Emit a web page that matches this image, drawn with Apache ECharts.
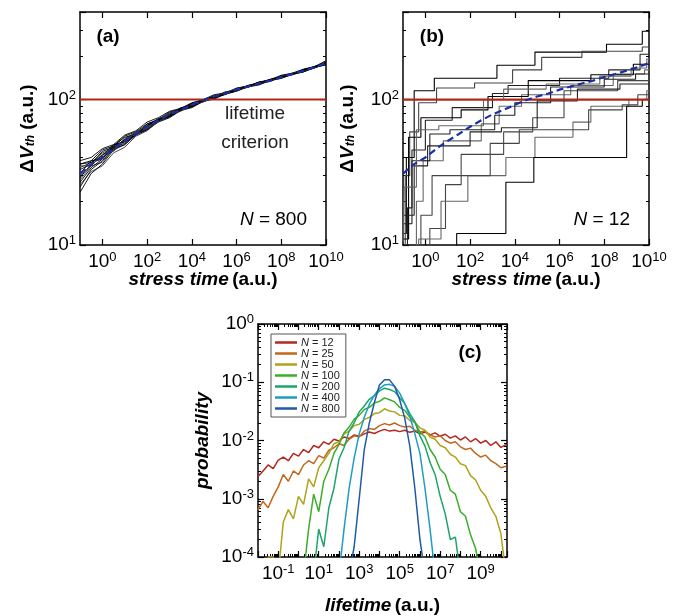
<!DOCTYPE html>
<html><head><meta charset="utf-8">
<script src="https://cdn.jsdelivr.net/npm/echarts@6/dist/echarts.min.js"></script>
<style>html,body{margin:0;padding:0;background:#fff}#c{width:680px;height:616px}</style>
</head><body><div id="c"></div>
<script>
const FONT = "'Liberation Sans', Arial, sans-serif";

// ---------- panels (a) and (b): threshold shift vs stress time ----------
const stressExp = [-1,-0.5,0,0.5,1,1.5,2,2.5,3,3.5,4,4.5,5,5.5,6,6.5,7,7.5,8,8.5,9,9.5,10];
const meanDVth  = [31,36,40,46,52,58,65,72,79,85,92,99,105,110,117,123,129,135,143,150,158,167,178];
const devA1  = [26,32,35,43,47,56,61,71,76,85,89,98,102,110,115,123,127,135,140,150,156,166,174];
const devA2  = [36,38,45,48,56,60,68,73,82,86,94,98,106,110,119,123,131,136,145,151,161,168,181];
const devA3  = [29,36,40,48,52,59,65,72,77,87,91,99,105,113,116,124,130,137,142,151,158,169,176];
const devA4  = [34,37,43,46,53,59,65,72,81,84,91,99,105,108,119,124,130,134,146,150,158,165,183];
const devA5  = [23,31,36,45,49,57,62,70,75,84,88,97,101,109,114,122,126,135,140,149,155,166,175];
const devA6  = [38,40,46,49,57,61,70,75,83,87,95,100,108,111,120,124,132,137,147,152,162,169,185];
const devA7  = [30,35,37,46,53,60,64,73,79,85,91,98,103,112,115,123,129,137,141,151,157,168,178];
const devA8  = [27,34,39,47,50,58,63,72,76,85,90,98,102,111,116,125,128,136,142,152,157,167,176];
const devA9  = [33,36,44,47,53,57,68,72,80,86,94,99,105,109,117,122,131,136,145,148,158,167,179];
const devA10 = [35,35,42,45,54,59,67,71,81,85,92,97,107,110,119,122,129,134,143,149,160,166,182];
const devA11 = [25,33,38,46,49,58,62,71,77,86,89,97,102,110,116,123,128,137,142,150,155,167,173];
const devA12 = [31,38,39,48,55,58,66,74,77,84,93,98,106,111,117,123,132,133,145,150,161,167,180];
const devA13 = [28,35,42,44,52,60,63,70,79,83,92,96,104,112,118,121,130,135,144,152,157,165,177];
const devA14 = [36,37,41,49,51,57,66,73,78,88,90,100,103,109,115,125,129,138,143,149,159,169,178];
const devicesA = [devA1,devA2,devA3,devA4,devA5,devA6,devA7,devA8,devA9,devA10,devA11,devA12,devA13,devA14];

// (b): step curves, [log10(stress time), dVth]
const stepB1  = [[-1,12],[-0.85,40],[-0.5,115],[0.4,140],[3.2,172],[4.9,212],[8.1,240],[9.7,295],[10,295]];
const stepB2  = [[-1,9],[-0.9,30],[-0.7,60],[-0.3,95],[0.5,120],[2.2,130],[3.9,160],[5.2,195],[7.0,215],[9.7,230],[10,230]];
const stepB3  = [[-1,14],[-0.6,45],[0,72],[1.2,88],[3.0,110],[3.7,125],[6.0,140],[8.2,160],[9.6,205],[10,205]];
const stepB4  = [[-1,9],[-0.4,20],[-0.1,38],[0.8,52],[2.5,68],[3.3,90],[4.3,108],[6.5,125],[8.4,150],[9.8,160],[10,160]];
const stepB5  = [[-1,11],[-0.75,55],[-0.2,75],[1.6,85],[2.8,105],[4.6,135],[7.4,148],[9.3,175],[10,175]];
const stepB6  = [[-1,9],[0.2,13],[0.9,26],[1.6,42],[3.5,60],[4.8,75],[6.2,115],[8.6,135],[10,135]];
const stepB7  = [[-1,16],[-0.5,35],[0.1,48],[2.0,60],[3.4,64],[5.0,98],[6.8,118],[8.7,128],[10,128]];
const stepB8  = [[-1,9],[-0.3,11],[0.7,20],[1.9,30],[3.6,40],[4.9,55],[6.6,70],[7.4,90],[9.1,100],[9.9,115],[10,115]];
const stepB9  = [[-1,9],[1.4,12],[3.6,27],[4.85,40],[9.0,90],[9.7,100],[10,100]];
const stepB10 = [[-1,9],[-0.2,16],[0.3,30],[2.9,50],[4.2,62],[7.3,85],[8.8,92],[9.5,108],[10,108]];
const stepB11 = [[-1,9],[-0.8,18],[-0.6,38],[0.2,58],[1.1,62],[3.1,78],[4.0,95],[5.6,122],[8.0,138],[9.4,150],[10,150]];
const stepB12 = [[-1,10.5],[-0.95,25],[-0.4,62],[0.6,66],[2.6,100],[3.5,118],[5.4,128],[7.8,145],[9.2,165],[9.9,190],[10,190]];
const stepCurvesB = [stepB1,stepB2,stepB3,stepB4,stepB5,stepB6,stepB7,stepB8,stepB9,stepB10,stepB11,stepB12];

const lifetimeCriterion = 100;
const stressTicks = [1,1e2,1e4,1e6,1e8,1e10];
const dvthTicks = [10,100];

// ---------- panel (c): lifetime distributions ----------
const lifetimeExp = [-2,-1.75,-1.5,-1.25,-1,-0.75,-0.5,-0.25,0,0.25,0.5,0.75,1,1.25,1.5,1.75,2,2.25,2.5,2.75,3,3.25,3.5,3.75,4,4.25,4.5,4.75,5,5.25,5.5,5.75,6,6.25,6.5,6.75,7,7.25,7.5,7.75,8,8.25,8.5,8.75,9,9.25,9.5,9.75,10,10.25];
const ensembleNames = ['N = 12','N = 25','N = 50','N = 100','N = 200','N = 400','N = 800'];
const ensembleColors = ['#b2281c','#c0681e','#b0a21c','#3aae2a','#1ca46c','#1e9cc4','#1f5aa6'];
const probN12 = [2.4e-3,3.0e-3,3.8e-3,3.3e-3,4.6e-3,5.2e-3,4.5e-3,6.0e-3,5.4e-3,7.0e-3,6.2e-3,8.2e-3,7.5e-3,9.5e-3,8.6e-3,1.05e-2,9.8e-3,1.15e-2,1.08e-2,1.25e-2,1.18e-2,1.3e-2,1.4e-2,1.32e-2,1.45e-2,1.55e-2,1.45e-2,1.5e-2,1.42e-2,1.5e-2,1.38e-2,1.45e-2,1.3e-2,1.4e-2,1.25e-2,1.35e-2,1.18e-2,1.28e-2,1.1e-2,1.2e-2,1.02e-2,1.15e-2,9.5e-3,1.08e-2,9.0e-3,1.0e-2,8.2e-3,9.5e-3,7.6e-3,8.5e-3];
const probN25 = [6.5e-4,9e-4,7e-4,1.1e-3,1.6e-3,2.6e-3,2.0e-3,3.0e-3,2.6e-3,3.8e-3,4.5e-3,4.0e-3,5.5e-3,5.0e-3,6.8e-3,7.5e-3,8.8e-3,8.2e-3,1.05e-2,1.2e-2,1.15e-2,1.45e-2,1.6e-2,1.55e-2,1.8e-2,1.95e-2,1.85e-2,2.0e-2,1.8e-2,1.7e-2,1.75e-2,1.5e-2,1.4e-2,1.45e-2,1.25e-2,1.15e-2,1.2e-2,1.0e-2,9.0e-3,9.5e-3,7.8e-3,7.0e-3,7.4e-3,6.0e-3,5.2e-3,5.6e-3,4.5e-3,4.0e-3,3.4e-3,3.6e-3];
const probN50 = [null,5e-5,1e-4,1e-4,5e-5,4e-4,6.5e-4,4.5e-4,1.1e-3,8e-4,2.2e-3,1.6e-3,3.4e-3,4.5e-3,6.0e-3,8.8e-3,9.5e-3,1.3e-2,1.45e-2,1.8e-2,1.9e-2,2.3e-2,2.5e-2,2.9e-2,3.0e-2,3.5e-2,3.2e-2,3.1e-2,2.7e-2,2.65e-2,2.2e-2,2.05e-2,1.65e-2,1.5e-2,1.15e-2,1.05e-2,8.2e-3,7.5e-3,5.8e-3,5.2e-3,4.0e-3,3.7e-3,2.5e-3,2.1e-3,1.4e-3,1.1e-3,7e-4,5e-4,2.5e-4,5e-5];
const probN100 = [null,null,null,null,null,null,null,null,null,5e-5,3e-4,1.2e-3,6e-4,2.0e-3,3.2e-3,6.0e-3,8.5e-3,1.35e-2,1.7e-2,2.3e-2,2.7e-2,3.4e-2,3.7e-2,4.4e-2,4.7e-2,5.4e-2,5.0e-2,4.6e-2,3.7e-2,3.3e-2,2.5e-2,2.05e-2,1.4e-2,1.15e-2,7e-3,5.2e-3,3.2e-3,2.6e-3,1.4e-3,1.2e-3,6e-4,5e-4,2.4e-4,1.4e-4,5e-5,null,null,null,null,null];
const probN200 = [null,null,null,null,null,null,null,null,null,null,null,5e-5,3e-4,1.5e-4,7e-4,1.5e-3,4.8e-3,7.5e-3,1.45e-2,2.0e-2,3.1e-2,3.9e-2,5.1e-2,5.9e-2,7.1e-2,7.9e-2,7.5e-2,6.9e-2,5.4e-2,4.3e-2,2.9e-2,2.1e-2,1.2e-2,8e-3,4.2e-3,2.6e-3,1.1e-3,5.5e-4,2e-4,2.2e-4,5e-5,null,null,null,null,null,null,null,null,null];
const probN400 = [null,null,null,null,null,null,null,null,null,null,null,null,null,null,null,null,5e-5,3e-4,1.5e-3,5e-3,1.3e-2,2.5e-2,4.2e-2,6.0e-2,7.8e-2,9.0e-2,9.2e-2,8.5e-2,6.5e-2,4.3e-2,2.6e-2,1.3e-2,6e-3,1.5e-3,3e-4,5e-5,null,null,null,null,null,null,null,null,null,null,null,null,null,null];
const probN800 = [null,null,null,null,null,null,null,null,null,null,null,null,null,null,null,null,null,null,5e-5,1.5e-4,1.0e-3,7e-3,2.0e-2,4.5e-2,9e-2,1.1e-1,1.1e-1,8.5e-2,5.0e-2,2.4e-2,8e-3,1.5e-3,2e-4,5e-5,null,null,null,null,null,null,null,null,null,null,null,null,null,null,null,null];
const ensembleProbs = [probN12,probN25,probN50,probN100,probN200,probN400,probN800];
const lifetimeTicks = [0.1,10,1e3,1e5,1e7,1e9];
const probTicks = [1e-4,1e-3,1e-2,1e-1,1];

// ---------- helpers ----------
function supLabel(v){ const e = Math.round(Math.log10(v)); return '{b|10}{s|' + e + '}'; }
const supRich = {
  b: {fontSize: 19, fontFamily: FONT, color: '#000', lineHeight: 22},
  s: {fontSize: 13, fontFamily: FONT, color: '#000', lineHeight: 22, verticalAlign: 'top'}
};
const lineStyleAxis = {color: '#000', width: 1.5};

function makeAxis(o) {
  return {
    type: 'log', logBase: 10, gridIndex: o.grid, position: o.pos,
    min: o.min, max: o.max, interval: 1,
    axisLine: {show: true, lineStyle: lineStyleAxis},
    axisTick: {show: true, inside: true, length: 6, customValues: o.ticks, lineStyle: {color: '#000', width: 1.2}},
    minorTick: {show: !!o.minor, splitNumber: 9, length: 3, lineStyle: {color: '#000', width: 1}},
    axisLabel: o.labels ? {show: true, customValues: o.labels, formatter: supLabel, rich: supRich, margin: o.margin || 6} : {show: false},
    splitLine: {show: false}, minorSplitLine: {show: false},
    name: o.name || '', nameLocation: 'middle', nameGap: o.nameGap || 30, nameMoveOverlap: false,
    nameTextStyle: {rich: o.nameRich || {}, fontFamily: FONT},
    silent: true
  };
}
const xNameRich = {
  bi: {fontSize: 19, fontWeight: 'bold', fontStyle: 'italic', fontFamily: FONT, color: '#000'},
  b: {fontSize: 19, fontWeight: 'bold', fontFamily: FONT, color: '#000'}
};
const yNameRich = {
  b: {fontSize: 19, fontWeight: 'bold', fontFamily: FONT, color: '#000'},
  bi: {fontSize: 19, fontWeight: 'bold', fontStyle: 'italic', fontFamily: FONT, color: '#000'},
  sub: {fontSize: 12, fontWeight: 'bold', fontStyle: 'italic', fontFamily: FONT, color: '#000', verticalAlign: 'bottom'}
};

const xAxes = [
  makeAxis({grid:0,pos:'bottom',min:0.1,max:1e10,ticks:stressTicks,labels:stressTicks,name:'{bi|stress time} {b|(a.u.)}',nameRich:xNameRich,nameGap:25}),
  makeAxis({grid:0,pos:'top',min:0.1,max:1e10,ticks:stressTicks}),
  makeAxis({grid:1,pos:'bottom',min:0.1,max:1e10,ticks:stressTicks,labels:stressTicks,name:'{bi|stress time} {b|(a.u.)}',nameRich:xNameRich,nameGap:25}),
  makeAxis({grid:1,pos:'top',min:0.1,max:1e10,ticks:stressTicks}),
  makeAxis({grid:2,pos:'bottom',min:0.01,max:2e10,ticks:null,minor:true,labels:lifetimeTicks,name:'{bi|lifetime} {b|(a.u.)}',nameRich:xNameRich,nameGap:39}),
  makeAxis({grid:2,pos:'top',min:0.01,max:2e10,ticks:null,minor:true})
];
const yAxes = [
  makeAxis({grid:0,pos:'left',min:10,max:400,ticks:null,minor:true,labels:dvthTicks,name:'{b|Δ}{bi|V}{sub|th}{b| (a.u.)}',nameRich:yNameRich,nameGap:43,margin:4}),
  makeAxis({grid:0,pos:'right',min:10,max:400,ticks:null,minor:true}),
  makeAxis({grid:1,pos:'left',min:10,max:400,ticks:null,minor:true,labels:dvthTicks,name:'{b|Δ}{bi|V}{sub|th}{b| (a.u.)}',nameRich:yNameRich,nameGap:46,margin:4}),
  makeAxis({grid:1,pos:'right',min:10,max:400,ticks:null,minor:true}),
  makeAxis({grid:2,pos:'left',min:1e-4,max:1,ticks:null,minor:true,labels:probTicks,name:'{bi|probability}',nameRich:yNameRich,nameGap:46,margin:4}),
  makeAxis({grid:2,pos:'right',min:1e-4,max:1,ticks:null,minor:true})
];

const series = [];
// (a)
devicesA.forEach((d, k) => {
  series.push({type:'line', xAxisIndex:0, yAxisIndex:0, symbol:'none', silent:true,
    lineStyle:{color: k % 3 === 0 ? '#333' : '#000', width: 0.9},
    data: stressExp.map((e, i) => [Math.pow(10, e), d[i]])});
});
series.push({type:'line', xAxisIndex:0, yAxisIndex:0, symbol:'none', silent:true,
  lineStyle:{color:'#b0281a', width:2}, data:[[0.1, lifetimeCriterion],[1e10, lifetimeCriterion]]});
series.push({type:'line', xAxisIndex:0, yAxisIndex:0, symbol:'none', silent:true,
  lineStyle:{color:'#1a2ea8', width:2.2, type:[7,4]}, data: stressExp.map((e, i) => [Math.pow(10, e), meanDVth[i]])});
// (b)
stepCurvesB.forEach((c, k) => {
  series.push({type:'line', xAxisIndex:2, yAxisIndex:2, symbol:'none', silent:true, step:'end',
    lineStyle:{color: ['#000','#444','#222','#666'][k % 4], width: 1.1},
    data: c.map(p => [Math.pow(10, p[0]), p[1]])});
});
series.push({type:'line', xAxisIndex:2, yAxisIndex:2, symbol:'none', silent:true,
  lineStyle:{color:'#b0281a', width:2.2}, data:[[0.1, lifetimeCriterion],[1e10, lifetimeCriterion]]});
series.push({type:'line', xAxisIndex:2, yAxisIndex:2, symbol:'none', silent:true,
  lineStyle:{color:'#1a2ea8', width:2.2, type:[7,4]}, data: stressExp.map((e, i) => [Math.pow(10, e), meanDVth[i]])});
// (c)
ensembleProbs.forEach((p, k) => {
  const data = [];
  lifetimeExp.forEach((e, i) => { if (p[i] != null) data.push([Math.pow(10, e), p[i]]); });
  series.push({type:'line', name: ensembleNames[k], xAxisIndex:4, yAxisIndex:4, symbol:'none', silent:true,
    color: ensembleColors[k], lineStyle:{color: ensembleColors[k], width: 1.5}, data});
});

const txt = (text, x, y, extra) => ({type:'text', x, y, silent:true, z: 100,
  style: Object.assign({text, fontSize: 19, fontFamily: FONT, fill: '#000', align:'center', verticalAlign:'middle'}, extra || {})});

const option = {
  animation: false,
  backgroundColor: '#fff',
  textStyle: {fontFamily: FONT},
  grid: [
    {left:80, top:12, width:246, height:233},
    {left:403, top:12, width:246, height:233},
    {left:258, top:324, width:249, height:233}
  ],
  xAxis: xAxes,
  yAxis: yAxes,
  legend: {
    data: ensembleNames, orient:'vertical', left: 271, top: 334, icon:'rect', itemWidth: 22, itemHeight: 2.5,
    itemGap: 0, padding: [3,6,3,4], borderColor:'#555', borderWidth: 1, backgroundColor:'#fff',
    formatter: n => '{i|N} ' + n.slice(2), selectedMode: false,
    textStyle: {fontSize: 11, lineHeight: 11, color:'#222', fontFamily: FONT, padding:[0,0,0,-1],
      rich: {i: {fontSize: 11, fontStyle:'italic', fontFamily: FONT, color:'#222'}}}
  },
  series,
  graphic: [
    txt('(a)', 108, 37, {fontWeight:'bold'}),
    txt('(b)', 432, 37, {fontWeight:'bold'}),
    txt('(c)', 470, 353, {fontWeight:'bold'}),
    txt('lifetime', 255, 114, {fill:'#222'}),
    txt('criterion', 255, 143, {fill:'#222'}),
    txt('{i|N} = 800', 307, 220, {align:'right', rich:{i:{fontStyle:'italic', fontSize:19, fontFamily:FONT}}}),
    txt('{i|N} = 12', 630, 220, {align:'right', rich:{i:{fontStyle:'italic', fontSize:19, fontFamily:FONT}}})
  ]
};
echarts.init(document.getElementById('c'), null, {renderer:'canvas'}).setOption(option);
</script>
</body></html>
